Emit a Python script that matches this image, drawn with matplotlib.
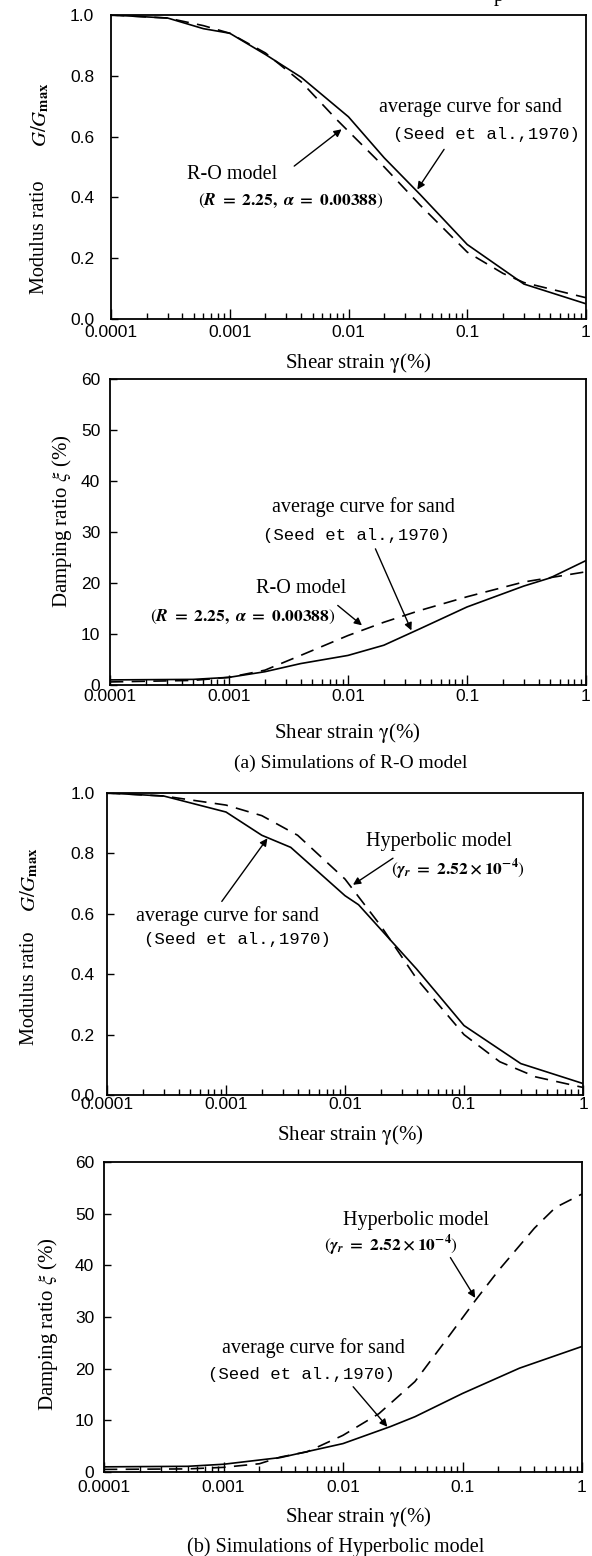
import matplotlib.pyplot as plt
import numpy as np

plt.rcParams['mathtext.fontset'] = 'stix'

# strain (%) and readings for each panel
strain_g_seed = [1e-4, 3e-4, 6e-4, 1e-3, 2e-3, 4e-3, 1e-2, 2e-2, 4e-2, 1e-1, 3e-1, 1.0]
g_seed_a = [1.0, 0.99, 0.955, 0.94, 0.87, 0.795, 0.665, 0.53, 0.41, 0.245, 0.115, 0.05]

strain_g_ro = [1e-4, 3e-4, 6e-4, 1e-3, 2e-3, 4e-3, 8e-3, 2e-2, 4e-2, 1e-1, 2e-1, 3e-1, 1.0]
g_ro = [1.0, 0.99, 0.965, 0.94, 0.875, 0.78, 0.655, 0.5, 0.375, 0.22, 0.15, 0.12, 0.07]

strain_d_seed = [1e-4, 5e-4, 1e-3, 2e-3, 4e-3, 1e-2, 2e-2, 4e-2, 1e-1, 3e-1, 5e-1, 1.0]
d_seed_a = [1.0, 1.1, 1.5, 2.6, 4.2, 5.8, 7.8, 11.0, 15.3, 19.4, 21.0, 24.4]

strain_d_ro = [1e-4, 5e-4, 1e-3, 2e-3, 4e-3, 1e-2, 2e-2, 4e-2, 1e-1, 3e-1, 1.0]
d_ro = [0.6, 0.9, 1.5, 2.9, 5.8, 9.7, 12.3, 14.6, 17.3, 20.2, 22.2]

strain_g_seed_b = [1e-4, 3e-4, 1e-3, 2e-3, 3.5e-3, 1e-2, 1.3e-2, 4e-2, 1e-1, 3e-1, 1.0]
g_seed_b = [1.0, 0.99, 0.937, 0.86, 0.82, 0.66, 0.63, 0.417, 0.23, 0.104, 0.038]

strain_g_hyp = [1e-4, 3e-4, 1e-3, 2e-3, 4e-3, 1e-2, 2e-2, 4e-2, 1e-1, 2e-1, 4e-1, 1.0]
g_hyp = [1.0, 0.99, 0.96, 0.925, 0.86, 0.715, 0.56, 0.385, 0.2, 0.11, 0.06, 0.025]

strain_d_seed_b = [1e-4, 5e-4, 1e-3, 3e-3, 1e-2, 2.5e-2, 4e-2, 1e-1, 3e-1, 1.0]
d_seed_b = [1.0, 1.1, 1.5, 2.8, 5.5, 8.8, 10.7, 15.2, 20.1, 24.3]

strain_d_hyp = [1e-4, 5e-4, 1e-3, 2e-3, 3e-3, 5e-3, 1e-2, 2e-2, 4e-2, 7e-2, 1.3e-1, 2e-1, 4e-1, 6e-1, 1.0]
d_hyp = [0.5, 0.6, 0.9, 1.6, 2.9, 3.9, 7.1, 11.3, 17.5, 25.0, 33.4, 39.0, 47.2, 51.2, 53.8]

xticks = [1e-4, 1e-3, 1e-2, 1e-1, 1.0]
xticklabels = ['0.0001', '0.001', '0.01', '0.1', '1']

serif = 'Liberation Serif'
sans = 'Liberation Sans'
mono = 'Liberation Mono'

W, H = 592, 1556
fig = plt.figure(figsize=(W / 100, H / 100), dpi=100)


def axes_px(x0, x1, y0, y1):
    return fig.add_axes([x0 / W, 1 - y1 / H, (x1 - x0) / W, (y1 - y0) / H])


def ftext(x, y, s, **kw):
    return fig.text(x / W, 1 - y / H, s, ha='center', va='center', **kw)


def style(ax, ylim, yticks, yfmt, ypad, xpad):
    ax.set_xscale('log')
    ax.set_xlim(1e-4, 1)
    ax.set_ylim(*ylim)
    ax.set_xticks(xticks)
    ax.set_xticklabels(xticklabels, fontfamily=sans, fontsize=12.5)
    ax.set_yticks(yticks)
    ax.set_yticklabels([yfmt.format(v) for v in yticks], fontfamily=sans, fontsize=12.5)
    ax.tick_params(axis='x', which='major', direction='in', length=7, width=1,
                   top=False, pad=xpad)
    ax.tick_params(axis='x', which='minor', direction='in', length=4, width=1, top=False)
    ax.tick_params(axis='y', which='both', direction='in', length=5, width=1,
                   right=False, pad=ypad)
    ax.yaxis.set_minor_locator(plt.NullLocator())
    for s in ax.spines.values():
        s.set_linewidth(1.3)


def arrow(ax, tail, head):
    ax.annotate('', xy=head, xytext=tail,
                arrowprops=dict(arrowstyle='-|>', color='black', lw=1.0,
                                mutation_scale=11, shrinkA=0, shrinkB=0))


def note(ax, x, y, s, kind):
    if kind == 'serif':
        ax.text(x, y, s, fontfamily=serif, fontsize=14.5, ha='center', va='center')
    elif kind == 'mono':
        ax.text(x, y, s, fontfamily=mono, fontsize=12.5, ha='center', va='center')
    else:
        ax.text(x, y, s, fontsize=12.5, ha='center', va='center')


xlab = r'Shear strain $\mathrm{\gamma}$(%)'
glab = r'$G/G_{\mathbf{max}}$'
dlab = r'Damping ratio $\xi$ (%)'
ro_par = r'$(\mathbfit{R}\ \mathbf{=\ 2.25,}\ \mathbfit{\alpha}\ \mathbf{=\ 0.00388})$'
hyp_par = r'$(\mathbfit{\gamma_r}\ \mathbf{=\ 2.52\times 10^{-4}})$'
solid = dict(color='black', lw=1.2)
dashed = dict(color='black', lw=1.2, dashes=(8, 5))

# cut-off line of text above the figure
fig.text(499 / W, 1 - 0.5 / H, 'p', fontfamily=serif, fontsize=14.5, ha='center', va='baseline')

# (a) R-O model, modulus
ax1 = axes_px(111, 586, 15, 319)
ax1.plot(strain_g_seed, g_seed_a, **solid)
ax1.plot(strain_g_ro, g_ro, **dashed)
style(ax1, (0, 1.0), [0, 0.2, 0.4, 0.6, 0.8, 1.0], '{:.1f}', 12, 4)
note(ax1, 0.107, 0.696, 'average curve for sand', 'serif')
note(ax1, 0.144, 0.608, '(Seed et al.,1970)', 'mono')
arrow(ax1, (0.0638, 0.558), (0.038, 0.426))
note(ax1, 0.00104, 0.476, 'R-O model', 'serif')
note(ax1, 0.00324, 0.388, ro_par, 'math')
arrow(ax1, (0.00349, 0.503), (0.00875, 0.624))
ftext(40, 237, 'Modulus ratio', fontfamily=serif, fontsize=14.5, rotation=90)
ftext(40, 115, glab, fontsize=15, rotation=90)
ftext(358, 363, xlab, fontfamily=serif, fontsize=15)

# (a) R-O model, damping
ax2 = axes_px(110, 586, 379, 685)
ax2.plot(strain_d_seed, d_seed_a, **solid)
ax2.plot(strain_d_ro, d_ro, **dashed)
style(ax2, (0, 60), [0, 10, 20, 30, 40, 50, 60], '{:d}', 7, 3)
note(ax2, 0.0136, 34.8, 'average curve for sand', 'serif')
note(ax2, 0.0118, 29.3, '(Seed et al.,1970)', 'mono')
arrow(ax2, (0.0170, 26.7), (0.0341, 10.7))
note(ax2, 0.00405, 18.9, 'R-O model', 'serif')
note(ax2, 0.00129, 13.3, ro_par, 'math')
arrow(ax2, (0.0082, 15.6), (0.0131, 11.7))
ftext(62, 521, dlab, fontfamily=serif, fontsize=15, rotation=90)
ftext(347, 733, xlab, fontfamily=serif, fontsize=15)

ftext(351, 763, '(a) Simulations of R-O model', fontfamily=serif, fontsize=14)

# (b) Hyperbolic model, modulus
ax3 = axes_px(107, 583, 793, 1095)
ax3.plot(strain_g_seed_b, g_seed_b, **solid)
ax3.plot(strain_g_hyp, g_hyp, **dashed)
style(ax3, (0, 1.0), [0, 0.2, 0.4, 0.6, 0.8, 1.0], '{:.1f}', 9, 1.5)
note(ax3, 0.0611, 0.839, 'Hyperbolic model', 'serif')
note(ax3, 0.0883, 0.746, hyp_par, 'math')
arrow(ax3, (0.0253, 0.784), (0.01167, 0.696))
note(ax3, 0.00103, 0.592, 'average curve for sand', 'serif')
note(ax3, 0.00124, 0.515, '(Seed et al.,1970)', 'mono')
arrow(ax3, (0.000922, 0.641), (0.00223, 0.85))
ftext(29, 988, 'Modulus ratio', fontfamily=serif, fontsize=14.5, rotation=90)
ftext(29, 880, glab, fontsize=15, rotation=90)
ftext(350, 1135, xlab, fontfamily=serif, fontsize=15)

# (b) Hyperbolic model, damping
ax4 = axes_px(104, 582, 1162, 1472)
ax4.plot(strain_d_seed_b, d_seed_b, **solid)
ax4.plot(strain_d_hyp, d_hyp, **dashed)
style(ax4, (0, 60), [0, 10, 20, 30, 40, 50, 60], '{:d}', 7, 6)
note(ax4, 0.0408, 48.6, 'Hyperbolic model', 'serif')
note(ax4, 0.0253, 43.8, hyp_par, 'math')
arrow(ax4, (0.0792, 41.5), (0.1277, 33.7))
note(ax4, 0.00561, 24.0, 'average curve for sand', 'serif')
note(ax4, 0.00451, 18.8, '(Seed et al.,1970)', 'mono')
arrow(ax4, (0.01216, 16.5), (0.0235, 8.75))
ftext(48, 1324, dlab, fontfamily=serif, fontsize=15, rotation=90)
ftext(358, 1517, xlab, fontfamily=serif, fontsize=15)

ftext(336, 1547, '(b) Simulations of Hyperbolic model', fontfamily=serif, fontsize=14.5)

fig.savefig('out.png', dpi=100)
